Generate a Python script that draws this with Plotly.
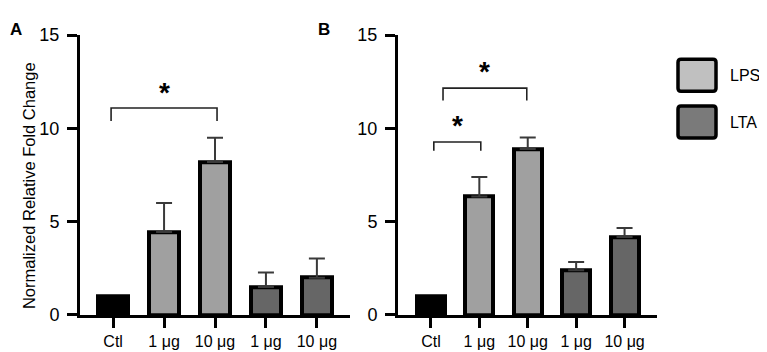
import plotly.graph_objects as go

# ---- data ----
tick_labels = ["Ctl", "1 μg", "10 μg", "1 μg", "10 μg"]
groups = ["Ctl", "LPS", "LPS", "LTA", "LTA"]
panel_a_values = [1.0, 4.45, 8.2, 1.5, 2.0]
panel_a_err = [0.0, 1.55, 1.3, 0.78, 1.02]
panel_b_values = [1.0, 6.35, 8.9, 2.4, 4.18]
panel_b_err = [0.0, 1.05, 0.62, 0.44, 0.48]
y_ticks = [0, 5, 10, 15]
legend_labels = ["LPS", "LTA"]

# ---- style ----
W, H = 767, 352
OX, OY, SY = 8, 16.8, 0.944  # where the page shows the figure (offset / vertical scale)
FONT = "Arial, Liberation Sans, sans-serif"
fills = {"Ctl": "#000000", "LPS": "#a0a0a0", "LTA": "#666666"}
legend_fills = {"LPS": "#c0c0c0", "LTA": "#7a7a7a"}
positions = list(range(len(tick_labels)))


def PX(p):
    return (p - OX) / W


def PY(p):
    return 1 - ((p - OY) / SY) / H


fig = go.Figure()


def add_panel(values, errs, xa, ya):
    for g in ["Ctl", "LPS", "LTA"]:
        idx = [i for i, gg in enumerate(groups) if gg == g]
        xs = [positions[i] for i in idx]
        ys = [values[i] for i in idx]
        es = [errs[i] for i in idx]
        kw = {}
        if g != "Ctl":
            kw["error_y"] = dict(type="data", symmetric=False, array=es,
                                 arrayminus=[0] * len(es), color="#3a3a3a",
                                 thickness=2, width=8)
        fig.add_trace(go.Bar(x=xs, y=ys, width=0.58, xaxis=xa, yaxis=ya,
                             marker=dict(color=fills[g],
                                         line=dict(color="black", width=4)),
                             showlegend=False, **kw))


add_panel(panel_a_values, panel_a_err, "x", "y")
add_panel(panel_b_values, panel_b_err, "x2", "y2")

ax_common = dict(showline=True, linecolor="black", linewidth=3, ticks="outside",
                 ticklen=10, tickwidth=3, tickcolor="black", showgrid=False,
                 zeroline=False, fixedrange=True)
ydom = [PY(314), PY(34)]

fig.update_layout(
    width=W, height=H, margin=dict(l=0, r=0, t=0, b=0),
    plot_bgcolor="white", paper_bgcolor="white",
    font=dict(family=FONT, color="black"),
    bargap=0,
    xaxis=dict(domain=[PX(80), PX(350)], range=[-0.65, 4.65], tickvals=positions,
               ticktext=tick_labels, tickfont=dict(size=16), anchor="y", **ax_common),
    xaxis2=dict(domain=[PX(398), PX(657)], range=[-0.68, 4.67], tickvals=positions,
                ticktext=tick_labels, tickfont=dict(size=16), anchor="y2", **ax_common),
    yaxis=dict(domain=ydom, range=[0, 15], tickvals=y_ticks, tickfont=dict(size=18),
               ticklabelstandoff=4, anchor="x", **ax_common),
    yaxis2=dict(domain=ydom, range=[0, 15], tickvals=y_ticks, tickfont=dict(size=18),
                ticklabelstandoff=4, anchor="x2", **ax_common),
)

# significance brackets
brackets = [
    ("x", "y", -0.04, 2.04, 11.1, 10.4, 1.0, 12.1),
    ("x2", "y2", 0.06, 1.03, 9.27, 8.8, 0.54, 10.3),
    ("x2", "y2", 0.25, 1.98, 12.16, 11.5, 1.1, 13.2),
]
for xr, yr, x0, x1, ytop, yleg, xs, ys in brackets:
    fig.add_shape(type="path", xref=xr, yref=yr,
                  path=f"M {x0},{yleg} L {x0},{ytop} L {x1},{ytop} L {x1},{yleg}",
                  line=dict(color="#222222", width=1.6))
    fig.add_annotation(x=xs, y=ys, xref=xr, yref=yr, text="<b>*</b>", showarrow=False,
                       font=dict(size=28, family=FONT), yanchor="middle", yshift=-3)

# y axis title
fig.add_annotation(x=PX(29), y=PY(185), xref="paper", yref="paper",
                   text="Normalized Relative Fold Change", textangle=-90,
                   showarrow=False, xanchor="center", yanchor="middle",
                   font=dict(size=16.5))

# panel labels (as high as the page allows)
fig.add_annotation(x=0, y=1, xref="paper", yref="paper", text="<b>A</b>",
                   showarrow=False, xanchor="left", yanchor="top", font=dict(size=17))
fig.add_annotation(x=PX(316), y=1, xref="paper", yref="paper", text="<b>B</b>",
                   showarrow=False, xanchor="left", yanchor="top", font=dict(size=17))


# legend (custom rounded boxes)
def rounded_rect(x0, y0, x1, y1, r=3):
    return (f"M {PX(x0 + r)},{PY(y0)} L {PX(x1 - r)},{PY(y0)} Q {PX(x1)},{PY(y0)} {PX(x1)},{PY(y0 + r)} "
            f"L {PX(x1)},{PY(y1 - r)} Q {PX(x1)},{PY(y1)} {PX(x1 - r)},{PY(y1)} "
            f"L {PX(x0 + r)},{PY(y1)} Q {PX(x0)},{PY(y1)} {PX(x0)},{PY(y1 - r)} "
            f"L {PX(x0)},{PY(y0 + r)} Q {PX(x0)},{PY(y0)} {PX(x0 + r)},{PY(y0)} Z")


for i, lab in enumerate(legend_labels):
    top = 58 + i * 47
    fig.add_shape(type="path", xref="paper", yref="paper",
                  path=rounded_rect(678, top, 716, top + 32),
                  fillcolor=legend_fills[lab], line=dict(color="black", width=3.5))
    fig.add_annotation(x=PX(728), y=PY(top + 16), xref="paper", yref="paper",
                       text=lab, showarrow=False, xanchor="left", yanchor="middle",
                       font=dict(size=16))

fig.write_html("out.html")
